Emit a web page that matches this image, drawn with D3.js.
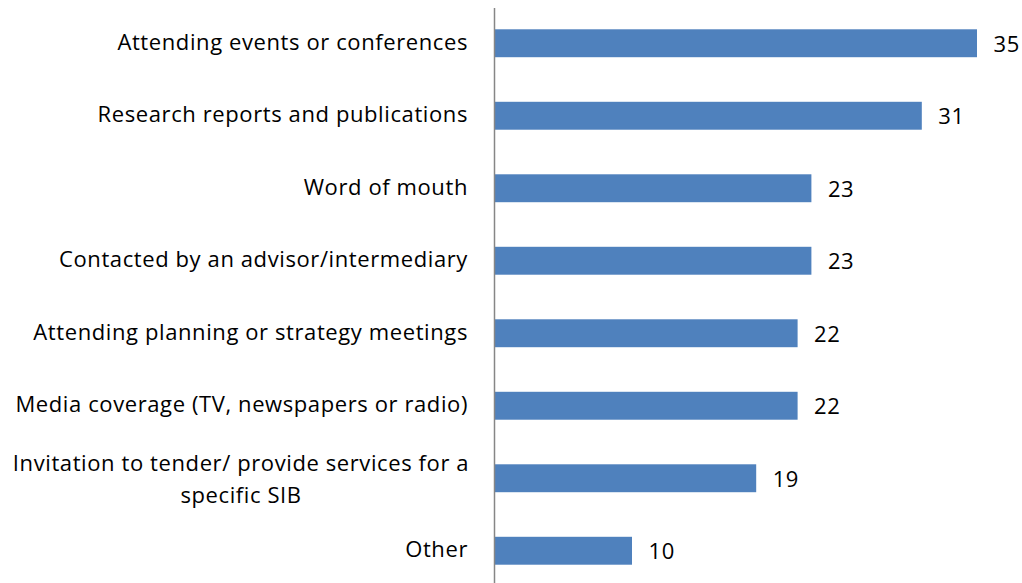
<!DOCTYPE html>
<html>
<head>
<meta charset="utf-8">
<script src="https://cdn.jsdelivr.net/npm/d3@7"></script>
<style>
  html, body { margin: 0; padding: 0; background: #fff; }
  svg { display: block; font-family: "Open Sans", sans-serif; }
</style>
</head>
<body>
<svg id="chart" width="1022" height="583"></svg>
<script>
// Sources through which respondents heard about the topic
const categories = [
  "Attending events or conferences",
  "Research reports and publications",
  "Word of mouth",
  "Contacted by an advisor/intermediary",
  "Attending planning or strategy meetings",
  "Media coverage (TV, newspapers or radio)",
  "Invitation to tender/ provide services for a|specific SIB",
  "Other"
];
const values = [35, 31, 23, 23, 22, 22, 19, 10];

const svg = d3.select("#chart");
const axisX = 494;
const fontSize = 22;
const spacing = 0.6;

const x = d3.scaleLinear().domain([0, 35]).range([axisX, 977]);
const y = d3.scaleBand()
  .domain(categories)
  .range([7, 587])
  .paddingInner(0.615)
  .paddingOuter(0.3075);

// bars
svg.append("g").selectAll("rect")
  .data(values)
  .join("rect")
  .attr("x", x(0))
  .attr("y", (d, i) => y(categories[i]))
  .attr("width", d => x(d) - x(0))
  .attr("height", y.bandwidth())
  .attr("fill", "#4F81BD");

// value labels
svg.append("g").selectAll("text")
  .data(values)
  .join("text")
  .attr("x", d => x(d) + 16.5)
  .attr("y", (d, i) => y(categories[i]) + y.bandwidth() / 2 + 8.5)
  .attr("font-size", fontSize)
  .attr("letter-spacing", spacing)
  .attr("fill", "#000")
  .text(d => d);

// category labels (right aligned, wrapped where marked with "|")
const labels = svg.append("g").selectAll("text")
  .data(categories)
  .join("text")
  .attr("font-size", fontSize)
  .attr("letter-spacing", spacing)
  .attr("fill", "#000")
  .attr("text-anchor", "end");

labels.each(function(c) {
  const lines = c.split("|");
  const cy = y(c) + y.bandwidth() / 2;
  const t = d3.select(this);
  if (lines.length === 1) {
    t.append("tspan").attr("x", 468).attr("y", cy + 6.5).text(lines[0]);
  } else {
    // wrapped label: lines centred on one another
    t.attr("text-anchor", "middle");
    const cx = 241;
    const lh = 32;
    lines.forEach((ln, k) => {
      t.append("tspan")
        .attr("x", cx)
        .attr("y", cy - 7 + k * lh)
        .text(ln);
    });
  }
});

// vertical category axis line
svg.append("line")
  .attr("x1", axisX + 0.5).attr("x2", axisX + 0.5)
  .attr("y1", 8).attr("y2", 583)
  .attr("stroke", "#868686")
  .attr("stroke-width", 1.5);
</script>
</body>
</html>
